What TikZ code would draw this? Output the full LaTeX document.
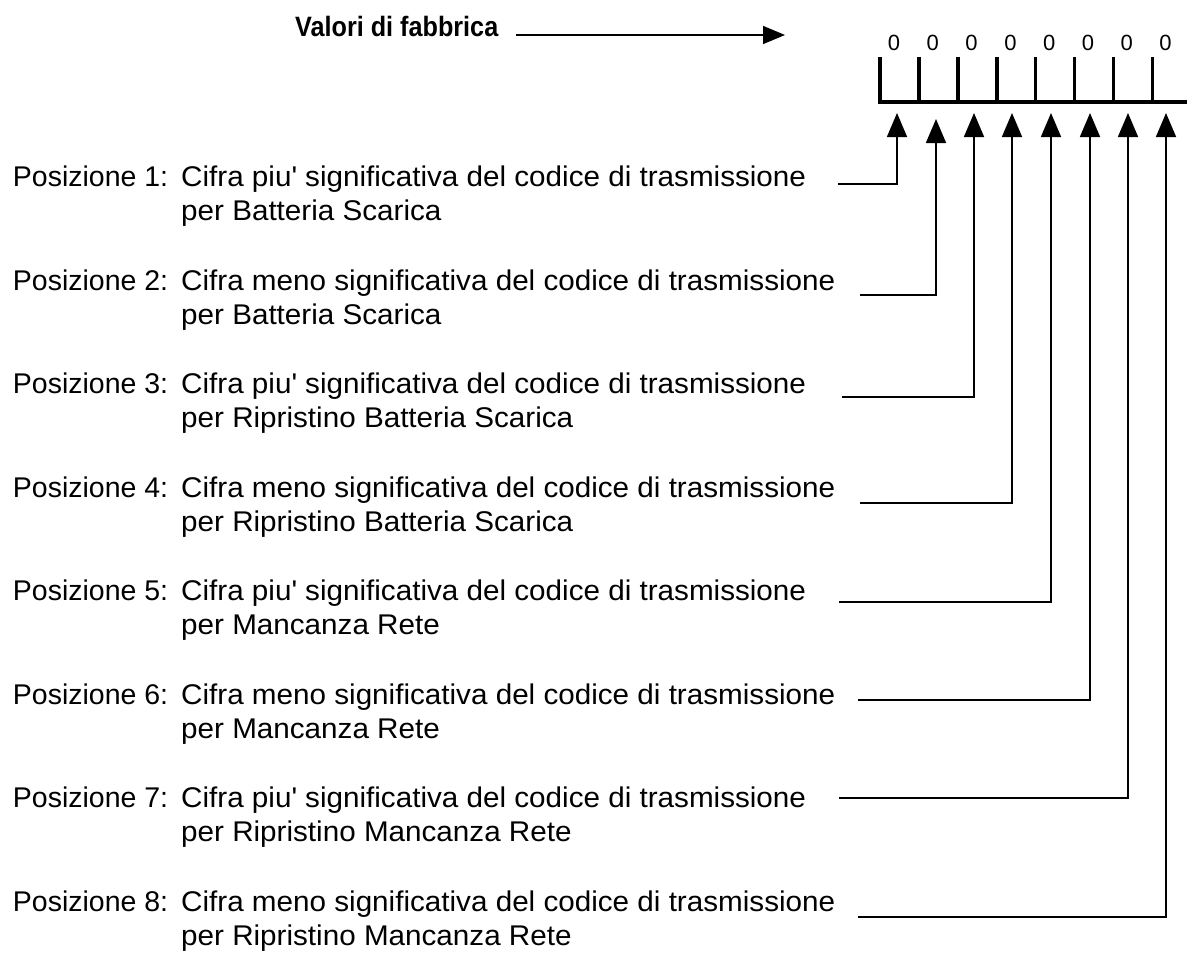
\documentclass[tikz,border=0pt]{standalone}
\usepackage{fontspec}
\setmainfont{Liberation Sans}
\newfontfamily\titlefont[FakeStretch=0.9]{Liberation Sans}
\newfontfamily\descfont[FakeStretch=1.04]{Liberation Sans}
\usetikzlibrary{arrows.meta}
\newcommand{\ap}{\textquotesingle}
\newcommand{\poslabel}[3]{\begin{tabular}{@{}l@{ \hspace{2.5pt}}l@{}}Posizione #1: & {\descfont #2}\\ & {\descfont #3}\end{tabular}}
\begin{document}
\begin{tikzpicture}[x=1pt,y=-1pt,
  lbl/.style={anchor=base west,inner sep=0pt,font=\fontsize{28.5}{34}\selectfont},
  digit/.style={anchor=base,inner sep=0pt,font=\fontsize{22}{24}\selectfont},
  conn/.style={line width=1.6pt,-{Triangle[length=24pt,width=20pt]}},
  bar/.style={line width=3.6pt}]
\useasboundingbox (0,0) rectangle (1187,966);
% title
\node[anchor=base west,inner sep=0pt,font=\fontsize{28}{30}\titlefont\bfseries] (title) at (295,36.5) {Valori di fabbrica};
\coordinate (tt) at (785,35);
\draw[line width=1.6pt,-{Triangle[length=22pt,width=18pt]}] ([xshift=18pt]title.east |- tt) -- (tt);
% bar
\draw[bar] (880,57) -- (880,102) -- (1187,102);
\foreach \i in {1,...,7}{
  \draw[bar] ({880+\i*38.9},57) -- ({880+\i*38.9},102);
}
\foreach \i in {1,...,8}{
  \node[digit] (d\i) at ({894+(\i-1)*38.8},51) {0};
}
% labels
\node[lbl] (p1) at (12.7,203) {\poslabel{1}{Cifra piu\ap{} significativa del codice di trasmissione}{per Batteria Scarica}};
\node[lbl] (p2) at (12.7,306.5) {\poslabel{2}{Cifra meno significativa del codice di trasmissione}{per Batteria Scarica}};
\node[lbl] (p3) at (12.7,410) {\poslabel{3}{Cifra piu\ap{} significativa del codice di trasmissione}{per Ripristino Batteria Scarica}};
\node[lbl] (p4) at (12.7,513.5) {\poslabel{4}{Cifra meno significativa del codice di trasmissione}{per Ripristino Batteria Scarica}};
\node[lbl] (p5) at (12.7,617) {\poslabel{5}{Cifra piu\ap{} significativa del codice di trasmissione}{per Mancanza Rete}};
\node[lbl] (p6) at (12.7,720.5) {\poslabel{6}{Cifra meno significativa del codice di trasmissione}{per Mancanza Rete}};
\node[lbl] (p7) at (12.7,824) {\poslabel{7}{Cifra piu\ap{} significativa del codice di trasmissione}{per Ripristino Mancanza Rete}};
\node[lbl] (p8) at (12.7,927.5) {\poslabel{8}{Cifra meno significativa del codice di trasmissione}{per Ripristino Mancanza Rete}};
% connectors
\coordinate (s1) at (838,184); \coordinate (t1) at (897,113);
\coordinate (s2) at (860,295); \coordinate (t2) at (936,119);
\coordinate (s3) at (842,397); \coordinate (t3) at (974,113);
\coordinate (s4) at (860,503); \coordinate (t4) at (1012,113);
\coordinate (s5) at (839,602); \coordinate (t5) at (1051,113);
\coordinate (s6) at (858,700); \coordinate (t6) at (1090,113);
\coordinate (s7) at (839,798); \coordinate (t7) at (1128,113);
\coordinate (s8) at (858,917); \coordinate (t8) at (1166,113);
\foreach \i in {1,...,8}{
  \draw[conn] (s\i) -| (t\i);
}
\end{tikzpicture}
\end{document}
